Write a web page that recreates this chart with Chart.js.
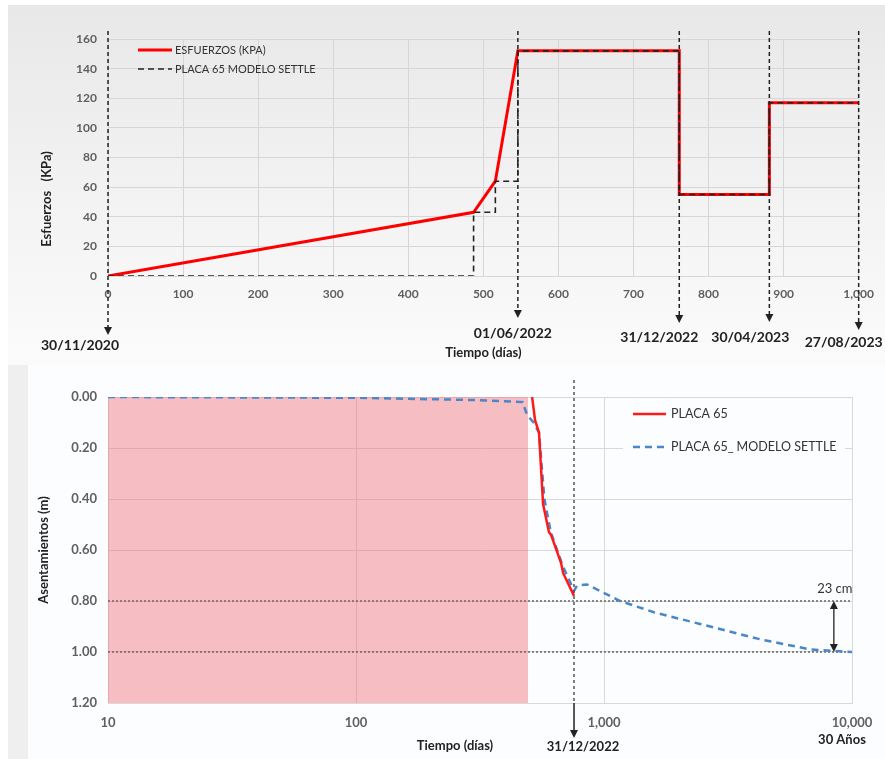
<!DOCTYPE html>
<html>
<head>
<meta charset="utf-8">
<script src="https://cdn.jsdelivr.net/npm/chart.js@4.4.1/dist/chart.umd.min.js"></script>
<style>
  html, body { margin: 0; padding: 0; background: #fff; width: 885px; height: 759px; overflow: hidden; }
  #bgTop { position: absolute; left: 8px; top: 5px; width: 877px; height: 360px;
    background: linear-gradient(to bottom, #e8e8e8 0%, #f2f2f2 50%, #fbfbfb 100%); }
  #bgStrip { position: absolute; left: 8px; top: 365px; width: 20px; height: 394px; background: #efefef; }
  #bgBottom { position: absolute; left: 28px; top: 365px; width: 857px; height: 394px; background: #fbfdfe; }
  #top { position: absolute; left: 8px; top: 5px; }
  #bottom { position: absolute; left: 28px; top: 365px; }
</style>
</head>
<body>
<div id="bgTop"></div>
<div id="bgStrip"></div>
<div id="bgBottom"></div>
<canvas id="top" width="877" height="360"></canvas>
<canvas id="bottom" width="857" height="394"></canvas>
<script>
const FONT = 'Lato, "Open Sans", sans-serif';

// top chart: stress history
const stressDays = [0, 487, 516, 546, 761, 761, 881, 881, 1000];
const stressKPa = [0, 43, 64, 152, 152, 55, 55, 117, 117];
const settleDays = [0, 487, 487, 516, 516, 546, 546, 761, 761, 881, 881, 1000];
const settleKPa = [0, 0, 43, 43, 64, 64, 152, 152, 55, 55, 117, 117];
const eventDays = [0, 546, 761, 881, 1000];
const eventLabels = ['30/11/2020', '01/06/2022', '31/12/2022', '30/04/2023', '27/08/2023'];

// bottom chart: settlement vs log time
const placaDays = [513, 527, 547, 568, 600, 611, 671, 684, 757];
const placaSettle = [0.00, 0.09, 0.14, 0.42, 0.53, 0.54, 0.65, 0.69, 0.78];
const modelDays = [10, 100, 300, 470, 489, 520, 547, 575, 610, 680, 757, 778, 853, 1161, 1600, 2438, 4256, 6777, 10000];
const modelSettle = [0.00, 0.003, 0.012, 0.02, 0.07, 0.10, 0.14, 0.40, 0.53, 0.66, 0.76, 0.74, 0.735, 0.80, 0.845, 0.89, 0.95, 0.99, 1.00];
const shadeDays = [10, 494];
const refLevels = [0.80, 1.00];
const cutoffDay = 757;
const gapDay = 8450;
const logTicks = [10, 100, 1000, 10000];

// annotation placement (pixels below plot bottom)
const eventTip = [59, 42, 47, 46, 54];
const eventLabelDy = [69, 57, 61, 61, 66];
const eventLabelDx = [-28, -5, -20, -19, -15];

const pts = (xs, ys) => xs.map((v, i) => ({ x: v, y: ys[i] }));

function arrowDown(ctx, x, tip) {
  ctx.beginPath();
  ctx.moveTo(x - 4, tip - 8);
  ctx.lineTo(x + 4, tip - 8);
  ctx.lineTo(x, tip);
  ctx.closePath();
  ctx.fill();
}

const topMarks = {
  id: 'topMarks',
  afterDatasetsDraw(chart) {
    const { ctx, chartArea: a, scales: { x } } = chart;
    ctx.save();
    eventDays.forEach((d, i) => {
      const px = x.getPixelForValue(d);
      const tip = a.bottom + eventTip[i];
      ctx.strokeStyle = '#222';
      ctx.lineWidth = 1.5;
      ctx.setLineDash([4, 3]);
      ctx.beginPath();
      ctx.moveTo(px, a.top - 8);
      ctx.lineTo(px, tip - 7);
      ctx.stroke();
      ctx.setLineDash([]);
      ctx.fillStyle = '#222';
      arrowDown(ctx, px, tip);
      ctx.font = 'bold 14px ' + FONT;
      ctx.textAlign = 'center';
      ctx.textBaseline = 'middle';
      ctx.fillText(eventLabels[i], px + eventLabelDx[i], a.bottom + eventLabelDy[i]);
    });

    // legend
    const ds = chart.data.datasets;
    ctx.font = '11px ' + FONT;
    ctx.textAlign = 'left';
    [0, 1].forEach(i => {
      const ly = a.top + 11 + i * 19;
      ctx.strokeStyle = ds[i].borderColor;
      ctx.lineWidth = ds[i].borderWidth;
      ctx.setLineDash(ds[i].borderDash || []);
      ctx.beginPath();
      ctx.moveTo(a.left + 30, ly);
      ctx.lineTo(a.left + 64, ly);
      ctx.stroke();
      ctx.fillStyle = '#333';
      ctx.fillText(ds[i].label, a.left + 67, ly);
    });
    ctx.setLineDash([]);

    // y title
    ctx.translate(39, 194);
    ctx.rotate(-Math.PI / 2);
    ctx.font = 'bold 13px ' + FONT;
    ctx.textAlign = 'center';
    ctx.fillStyle = '#222';
    ctx.fillText('Esfuerzos   (KPa)', 0, 0);
    ctx.restore();
  }
};

new Chart(document.getElementById('top'), {
  type: 'line',
  data: {
    datasets: [
      { label: 'ESFUERZOS (KPA)', data: pts(stressDays, stressKPa), borderColor: '#ff0000',
        borderWidth: 3, pointRadius: 0, order: 2 },
      { label: 'PLACA 65 MODELO SETTLE', data: pts(settleDays, settleKPa), borderColor: '#222',
        borderWidth: 1.6, borderDash: [6, 4], pointRadius: 0, order: 1 }
    ]
  },
  options: {
    responsive: false,
    animation: false,
    layout: { padding: { left: 28, right: 23, top: 34, bottom: 0 } },
    plugins: { legend: { display: false }, tooltip: { enabled: false } },
    scales: {
      x: {
        type: 'linear', min: 0, max: 1000,
        ticks: { stepSize: 100, padding: 11, color: '#5f5f5f', font: { family: FONT, size: 12, weight: 'bold' } },
        grid: { color: '#d6d6d6', drawTicks: false },
        border: { display: false },
        title: { display: true, text: 'Tiempo (días)', color: '#222', font: { family: FONT, size: 13, weight: 'bold' } },
        afterFit: s => { s.height = 89; }
      },
      y: {
        min: 0, max: 160,
        ticks: { stepSize: 20, padding: 11, color: '#5f5f5f', font: { family: FONT, size: 12, weight: 'bold' } },
        grid: { color: '#d6d6d6', drawTicks: false },
        border: { display: false },
        afterFit: s => { s.width = 72; }
      }
    }
  },
  plugins: [topMarks]
});

const bottomMarks = {
  id: 'bottomMarks',
  afterDatasetsDraw(chart) {
    const { ctx, chartArea: a, scales: { x, y } } = chart;
    ctx.save();
    // cutoff line
    const px = x.getPixelForValue(cutoffDay);
    ctx.strokeStyle = '#555';
    ctx.lineWidth = 1.5;
    ctx.setLineDash([3, 3]);
    ctx.beginPath();
    ctx.moveTo(px, a.top - 17);
    ctx.lineTo(px, a.bottom);
    ctx.stroke();
    ctx.setLineDash([]);
    ctx.strokeStyle = '#222';
    ctx.beginPath();
    ctx.moveTo(px, a.bottom);
    ctx.lineTo(px, a.bottom + 28);
    ctx.stroke();
    ctx.fillStyle = '#222';
    arrowDown(ctx, px, a.bottom + 35);
    ctx.font = 'bold 13px ' + FONT;
    ctx.textAlign = 'center';
    ctx.textBaseline = 'middle';
    ctx.fillText('31/12/2022', px + 9, a.bottom + 44);

    // x title and 30 years label
    ctx.fillText('Tiempo (días)', a.left + 347, a.bottom + 43);
    ctx.fillText('30 Años', x.getPixelForValue(logTicks[3]) - 10, a.bottom + 37);

    // double arrow between reference levels
    const ax = x.getPixelForValue(gapDay);
    const y1 = y.getPixelForValue(refLevels[0]);
    const y2 = y.getPixelForValue(refLevels[1]);
    ctx.strokeStyle = '#222';
    ctx.lineWidth = 1.3;
    ctx.beginPath();
    ctx.moveTo(ax, y1 + 6);
    ctx.lineTo(ax, y2 - 6);
    ctx.stroke();
    ctx.beginPath();
    ctx.moveTo(ax - 4, y1 + 8); ctx.lineTo(ax + 4, y1 + 8); ctx.lineTo(ax, y1); ctx.closePath(); ctx.fill();
    arrowDown(ctx, ax, y2);
    ctx.font = '13px ' + FONT;
    ctx.fillStyle = '#333';
    ctx.fillText('23 cm', ax + 1, y1 - 12);

    // legend
    const ds = chart.data.datasets;
    ctx.fillStyle = '#fbfdfe';
    ctx.fillRect(a.left + 515, a.top + 3, 222, 62);
    ctx.font = '12.5px ' + FONT;
    ctx.textAlign = 'left';
    [0, 1].forEach(i => {
      const ly = a.top + 17 + i * 33;
      ctx.strokeStyle = ds[i].borderColor;
      ctx.lineWidth = ds[i].borderWidth;
      ctx.setLineDash(ds[i].borderDash || []);
      ctx.beginPath();
      ctx.moveTo(a.left + 525, ly);
      ctx.lineTo(a.left + 558, ly);
      ctx.stroke();
      ctx.fillStyle = '#333';
      ctx.fillText(ds[i].label, a.left + 563, ly);
    });
    ctx.restore();
  }
};

new Chart(document.getElementById('bottom'), {
  type: 'line',
  data: {
    datasets: [
      { label: 'PLACA 65', data: pts(placaDays, placaSettle), borderColor: '#ff1a1a',
        borderWidth: 2.5, pointRadius: 0, order: 1 },
      { label: 'PLACA 65_ MODELO SETTLE', data: pts(modelDays, modelSettle), borderColor: '#4a86c8',
        borderWidth: 2.5, borderDash: [7, 5], pointRadius: 0, order: 2 },
      { label: 'ref 0.80', data: pts([10, 10000], [refLevels[0], refLevels[0]]), borderColor: '#666',
        borderWidth: 1.5, borderDash: [2, 2], pointRadius: 0, order: 3 },
      { label: 'ref 1.00', data: pts([10, 10000], [refLevels[1], refLevels[1]]), borderColor: '#666',
        borderWidth: 1.5, borderDash: [2, 2], pointRadius: 0, order: 3 },
      { label: 'zona', data: pts(shadeDays, [1.2, 1.2]), borderWidth: 0, pointRadius: 0,
        backgroundColor: 'rgba(240,110,125,0.45)', fill: { value: 0 }, order: 4 }
    ]
  },
  options: {
    responsive: false,
    animation: false,
    layout: { padding: { left: 4, right: 33, top: 32, bottom: 0 } },
    plugins: { legend: { display: false }, tooltip: { enabled: false } },
    scales: {
      x: {
        type: 'logarithmic', min: 10, max: 10000,
        afterBuildTicks: s => { s.ticks = logTicks.map(v => ({ value: v })); },
        ticks: { padding: 12, color: '#5f5f5f', font: { family: FONT, size: 13, weight: 'bold' },
          callback: v => Number(v).toLocaleString('en-US') },
        grid: { color: '#d9d9d9', drawTicks: false },
        border: { display: true, color: '#d9d9d9' },
        afterFit: s => { s.height = 56; }
      },
      y: {
        reverse: true, min: 0, max: 1.2,
        ticks: { stepSize: 0.2, padding: 11, color: '#5f5f5f', font: { family: FONT, size: 13, weight: 'bold' },
          callback: v => Number(v).toFixed(2) },
        grid: { color: '#d9d9d9', drawTicks: false },
        border: { display: true, color: '#d9d9d9' },
        title: { display: true, text: 'Asentamientos (m)', color: '#222', font: { family: FONT, size: 13, weight: 'bold' } },
        afterFit: s => { s.width = 76; }
      }
    }
  },
  plugins: [bottomMarks]
});
</script>
</body>
</html>
